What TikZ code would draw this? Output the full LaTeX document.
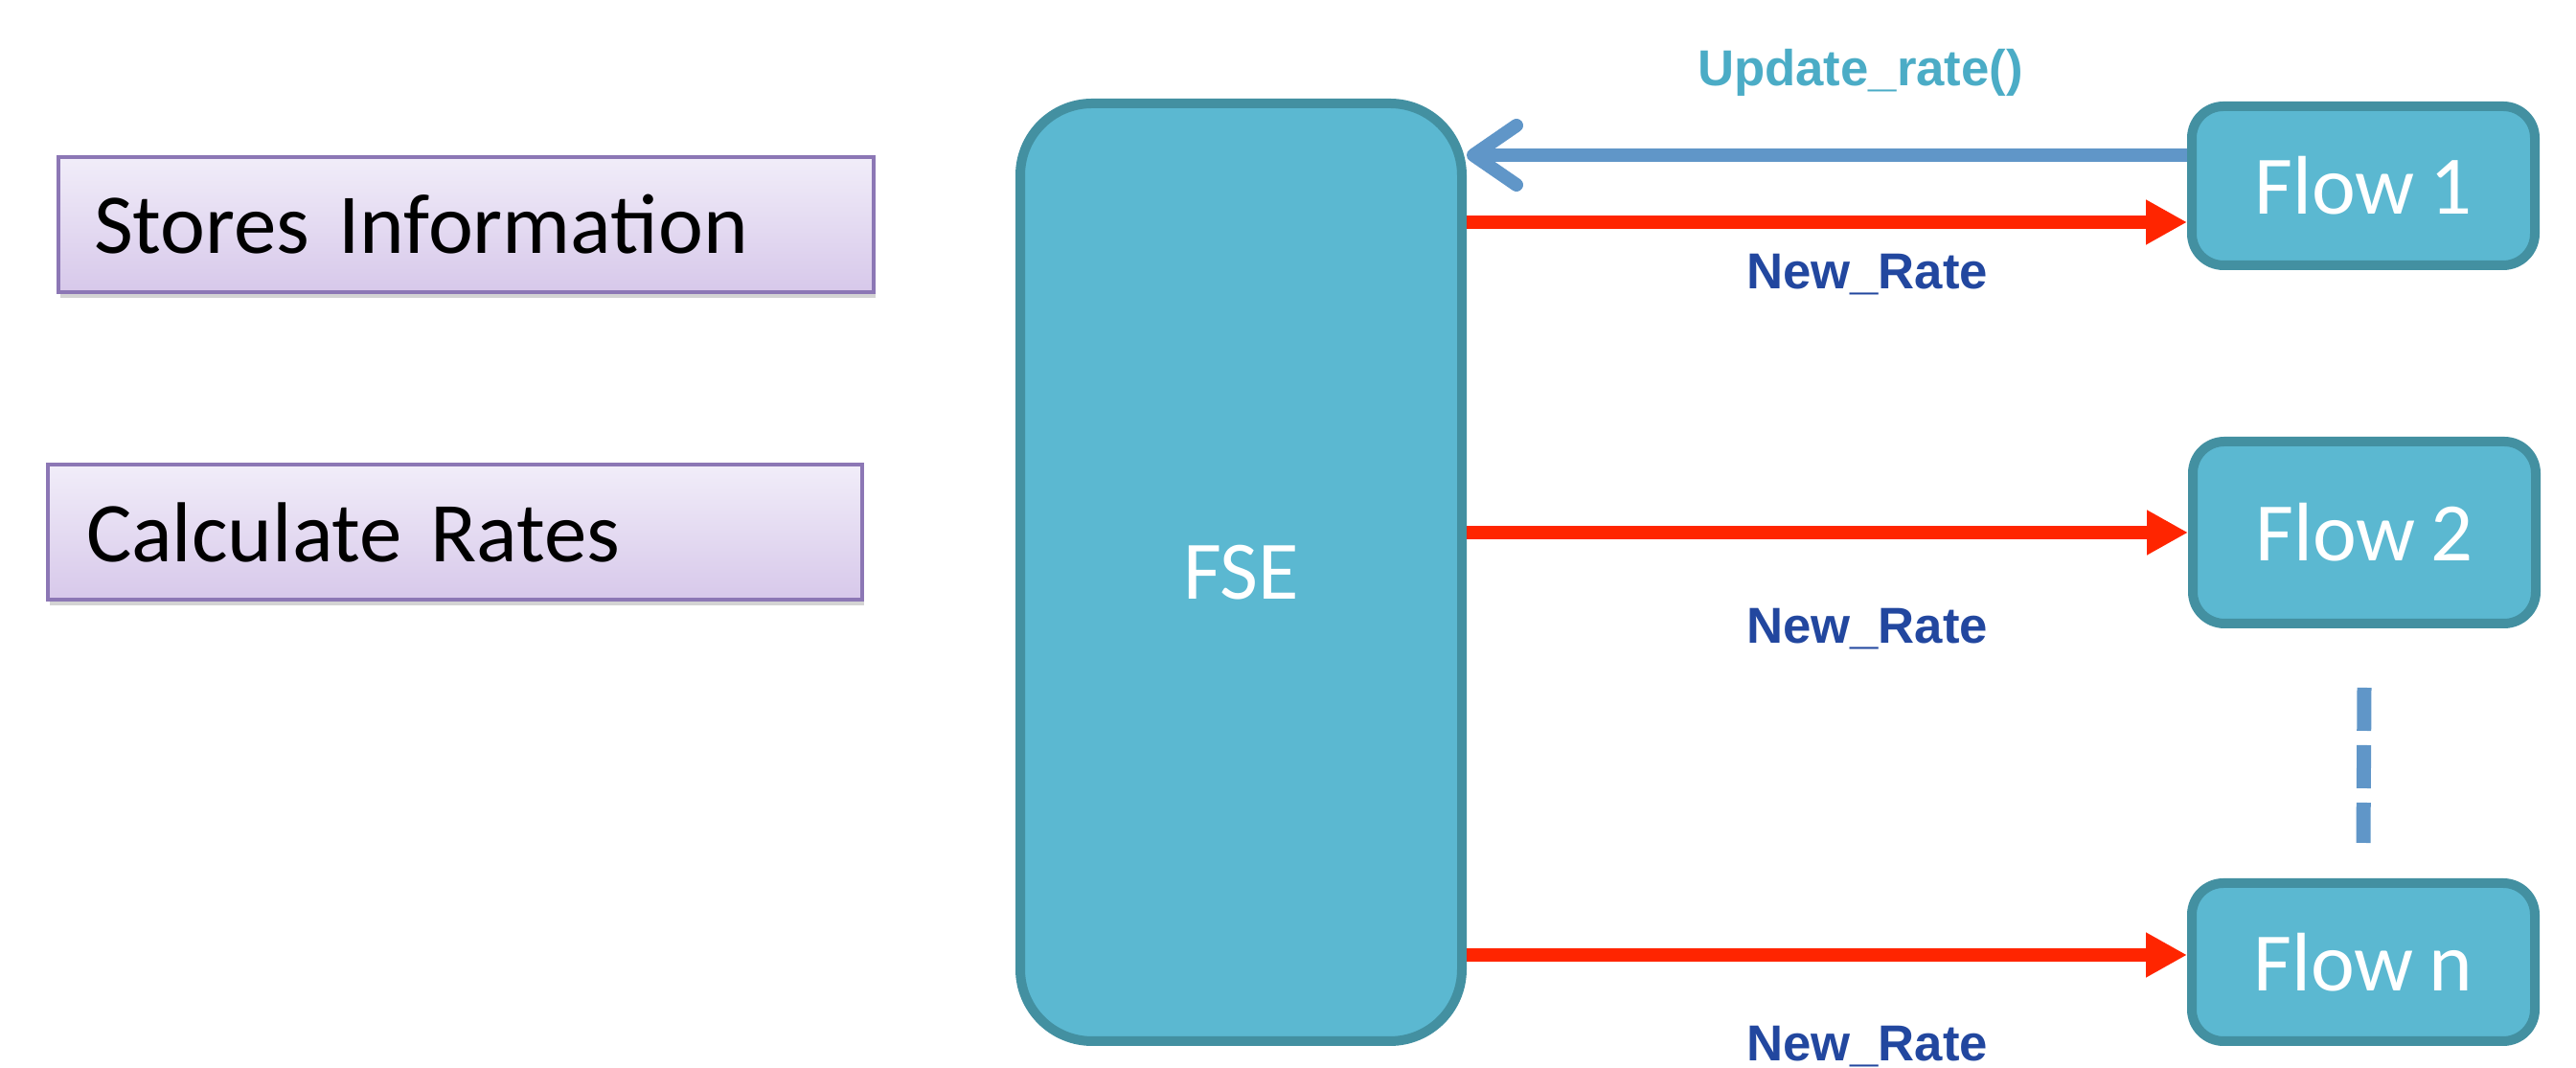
\documentclass[tikz,border=0pt]{standalone}
\usepackage{fontspec}
\setmainfont{Carlito}[WordSpace=0.8]
\newfontfamily\labelfont{Liberation Sans}
\usetikzlibrary{arrows.meta,shadows}
\definecolor{flowFill}{HTML}{5BB8D1}
\definecolor{flowBorder}{HTML}{4390A1}
\definecolor{rateRed}{HTML}{FF2500}
\definecolor{callBlue}{HTML}{6096C8}
\definecolor{callText}{HTML}{4BACC6}
\definecolor{rateText}{HTML}{22479F}
\definecolor{infoBorder}{HTML}{8C77B5}
\definecolor{infoTop}{HTML}{F1EDF9}
\definecolor{infoBottom}{HTML}{D7C8EA}
\tikzset{
  infobox/.style={draw=infoBorder, line width=0.04cm, top color=infoTop, bottom color=infoBottom,
    drop shadow={opacity=0.35, shadow xshift=0.02cm, shadow yshift=-0.06cm},
    minimum height=1.41cm, align=left, font=\fontsize{25.3}{30}\selectfont},
  flowbox/.style={draw=flowBorder, fill=flowFill, line width=0.1cm, rounded corners=0.33cm,
    text=white, minimum width=3.58cm, font=\fontsize{24.7}{28}\selectfont},
  rate/.style={draw=rateRed, line width=0.14cm, -{Triangle[length=0.43cm,width=0.44cm]}},
  call/.style={draw=callBlue, line width=0.14cm, -{Straight Barb[length=0.45cm,width=0.62cm,round]}},
  msg/.style={anchor=base, inner sep=0pt, font=\labelfont\bfseries\fontsize{15}{18}\selectfont},
}
\begin{document}
\begin{tikzpicture}
\useasboundingbox (0,0) rectangle (26.89,11.15);
% left hand notes
\node[infobox, text width=7.77cm, inner xsep=0.37cm] (store) at (4.865,8.805) {Stores Information};
\node[infobox, text width=7.70cm, inner xsep=0.40cm] (calc) at (4.75,5.59) {Calculate Rates};

% main block and flows
\node[flowbox, rounded corners=0.75cm, minimum width=4.61cm, minimum height=9.79cm] (fse) at (12.955,5.175) {FSE};
\node[flowbox, minimum height=1.66cm] (flow1) at (24.67,9.21) {Flow 1};
\node[flowbox, minimum height=1.90cm] (flow2) at (24.68,5.59) {Flow 2};
\node[flowbox, minimum height=1.65cm] (flown) at (24.67,1.105) {Flow n};

\coordinate (c1) at ([yshift=0.32cm]flow1.west);
\coordinate (r1) at ([yshift=-0.38cm]flow1.west);
\coordinate (r3) at ([yshift=0.075cm]flown.west);

\draw[call] (c1) -- (fse.east |- c1);
\draw[rate] (fse.east |- r1) -- (r1);
\draw[rate] (fse.east |- flow2.west) -- (flow2.west);
\draw[rate] (fse.east |- r3) -- (r3);

% the flows in between
\draw[draw=callBlue, line width=0.15cm, dash pattern=on 0.45cm off 0.15cm]
  ([yshift=-0.62cm]flow2.south) -- ([yshift=0.37cm]flown.north);

\node[msg, text=callText] (upd) at (19.42,10.25) {Update\_rate()};
\node[msg, text=rateText] (nr1) at (19.49,8.13) {New\_Rate};
\node[msg, text=rateText] (nr2) at (19.49,4.43) {New\_Rate};
\node[msg, text=rateText] (nr3) at (19.49,0.07) {New\_Rate};
\end{tikzpicture}
\end{document}
